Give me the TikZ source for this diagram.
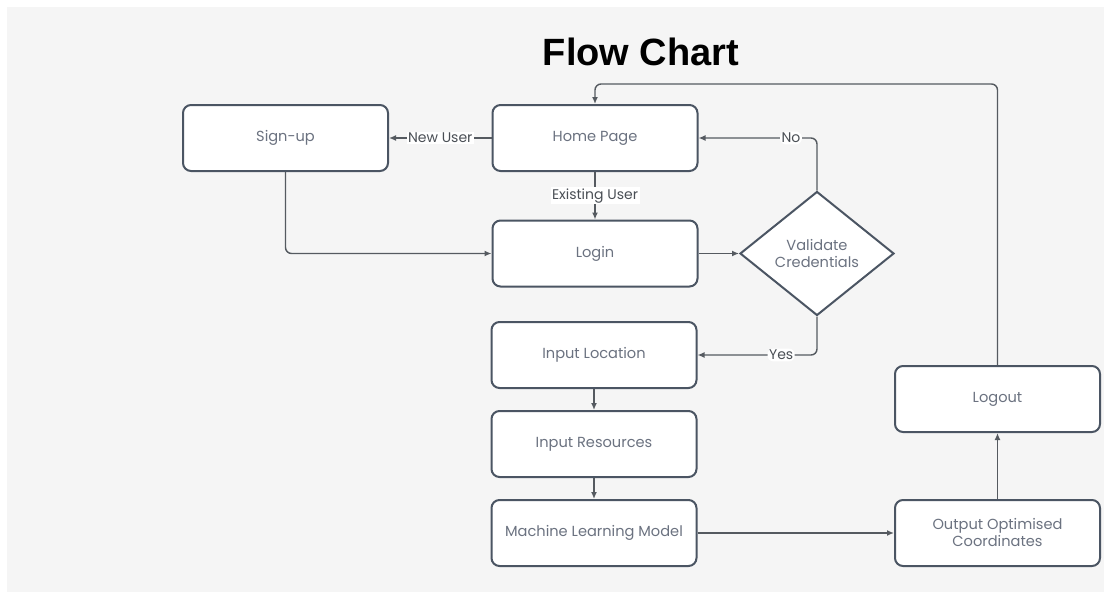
\documentclass[tikz,border=0pt]{standalone}
\usepackage{fontspec}
\setmainfont{Poppins}
\newfontfamily\titlefont{Liberation Sans}
\usetikzlibrary{arrows.meta,shapes.geometric,calc}
\definecolor{bgc}{HTML}{F5F5F5}
\definecolor{boxline}{HTML}{4B5563}
\definecolor{boxtext}{HTML}{6B7280}
\definecolor{conn}{HTML}{555A60}
\definecolor{lbltext}{HTML}{4A4F55}
\tikzset{
  stepbox/.style={draw=boxline, line width=2pt, fill=white, rounded corners=8pt,
    minimum width=205pt, minimum height=66pt, inner sep=0pt, align=center,
    text=boxtext, font=\fontsize{14.6}{17}\selectfont},
  decision/.style={draw=boxline, line width=2pt, fill=white, diamond, aspect=1.24,
    minimum width=154pt, minimum height=124pt, inner sep=0pt, align=center,
    text=boxtext, font=\fontsize{14.6}{17}\selectfont},
  arr/.style={draw=conn, line width=1.4pt, -{Latex[length=7pt,width=6pt]}},
  lbl/.style={fill=white, inner sep=1.5pt, text=lbltext, font=\fontsize{14}{16}\selectfont},
}
\begin{document}
\begin{tikzpicture}[x=1pt,y=-1pt]
\useasboundingbox (0,0) rectangle (1104,592);
\fill[white] (0,0) rectangle (1104,592);
\fill[bgc] (7,7) rectangle (1104,592);
\node[font=\titlefont\bfseries\fontsize{38}{42}\selectfont, text=black] (title) at (641,52) {Flow Chart};
\node[stepbox] (signup) at (285.5,138) {Sign-up};
\node[stepbox] (home) at (595,138) {Home Page};
\node[stepbox] (login) at (595,253.5) {Login};
\node[decision] (dia) at (817,253.5) {Validate\\Credentials};
\node[stepbox] (inloc) at (594,355) {Input Location};
\node[stepbox] (inres) at (594,444) {Input Resources};
\node[stepbox] (ml) at (594,533) {Machine Learning Model};
\node[stepbox] (out) at (997.5,533) {Output Optimised\\Coordinates};
\node[stepbox] (logout) at (997.5,399) {Logout};
\coordinate (topmid) at (800,84);
\draw[arr] (home.west) -- node[lbl]{New User} (signup.east);
\draw[arr] (home.south) -- node[lbl]{Existing User} (login.north);
\draw[arr, rounded corners=6pt] (signup.south) |- (login.west);
\draw[arr] (login.east) -- (dia.west);
\draw[arr, rounded corners=6pt] (dia.north) |- node[lbl,pos=0.61]{No} (home.east);
\draw[arr, rounded corners=6pt] (dia.south) |- node[lbl,pos=0.65]{Yes} (inloc.east);
\draw[arr] (inloc.south) -- (inres.north);
\draw[arr] (inres.south) -- (ml.north);
\draw[arr] (ml.east) -- (out.west);
\draw[arr] (out.north) -- (logout.south);
\draw[arr, rounded corners=6pt] (logout.north) |- (topmid) -| (home.north);
\end{tikzpicture}
\end{document}
